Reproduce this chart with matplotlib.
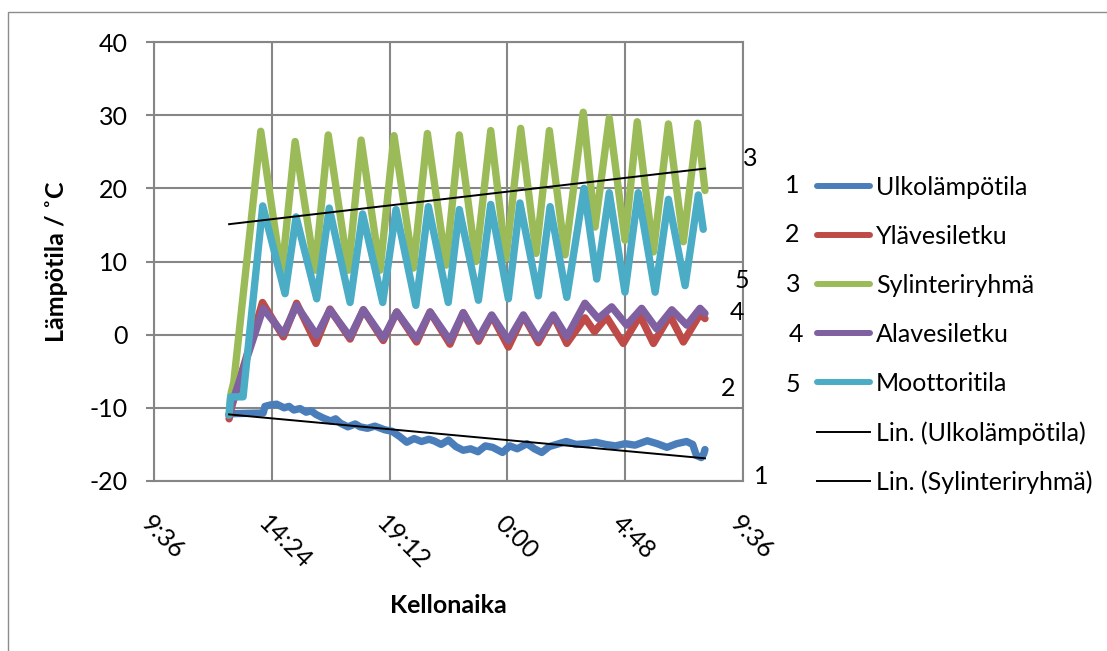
import numpy as np
import matplotlib
matplotlib.use("Agg")
import matplotlib.pyplot as plt
from matplotlib.patches import Rectangle
from matplotlib.ticker import FuncFormatter, MultipleLocator
from matplotlib.transforms import ScaledTranslation

plt.rcParams['font.family'] = ['Lato', 'DejaVu Sans']
plt.rcParams['axes.unicode_minus'] = False

# time in hours from midnight of the first day (values > 24 are next morning)
ulko_t = [12.66, 12.75, 14.05, 14.12, 14.35, 14.6, 14.9, 15.1, 15.3, 15.55, 15.8, 16.0,
          16.2, 16.5, 16.8, 17.0, 17.2, 17.5, 17.8, 18.0, 18.3, 18.6, 19.0, 19.3, 19.6,
          19.9, 20.2, 20.5, 20.8, 21.0, 21.3, 21.6, 21.9, 22.2, 22.5, 22.8, 23.1, 23.4,
          23.8, 24.1, 24.4, 24.8, 25.1, 25.4, 25.7, 26.0, 26.4, 26.8, 27.2, 27.6, 28.0,
          28.4, 28.8, 29.2, 29.7, 30.1, 30.5, 30.9, 31.3, 31.55, 31.7, 31.9, 32.0, 32.05]
ulko_v = [-11.0, -10.8, -10.7, -9.8, -9.6, -9.5, -10.0, -9.8, -10.3, -10.1, -10.6, -10.4,
          -10.9, -11.4, -11.8, -11.5, -12.1, -12.6, -12.2, -12.6, -12.8, -12.5, -13.0, -13.2, -13.9,
          -14.7, -14.2, -14.6, -14.3, -14.5, -15.0, -14.4, -15.3, -15.8, -15.6, -16.0, -15.2, -15.4,
          -16.1, -15.2, -15.6, -14.9, -15.6, -16.1, -15.3, -15.0, -14.6, -15.0, -14.9, -14.7, -15.0,
          -15.2, -14.9, -15.1, -14.5, -14.9, -15.4, -14.9, -14.6, -15.0, -16.5, -16.8, -16.3, -15.7]

yla_t = [12.66, 12.77, 14.02, 14.87, 15.41, 16.20, 16.77, 17.59, 18.13, 18.94, 19.49, 20.30,
         20.85, 21.66, 22.20, 22.82, 23.36, 24.04, 24.65, 25.26, 25.87, 26.42, 27.16, 27.55,
         28.04, 28.72, 29.40, 29.95, 30.62, 31.17, 31.85, 32.05]
yla_v = [-11.5, -9.8, 4.4, -0.3, 4.3, -1.2, 3.5, -0.6, 3.4, -0.8, 3.1, -1.0,
         3.1, -1.3, 3.0, -0.9, 2.6, -1.7, 2.6, -1.1, 2.6, -1.2, 2.3, 0.4,
         2.4, -1.2, 2.6, -1.2, 2.6, -1.0, 2.8, 2.2]

syl_t = [12.66, 12.74, 12.85, 13.95, 14.80, 15.35, 16.16, 16.70, 17.52, 18.04, 18.81, 19.38,
         20.17, 20.74, 21.50, 22.04, 22.72, 23.32, 23.94, 24.54, 25.17, 25.71, 26.35, 27.09,
         27.57, 28.15, 28.79, 29.29, 29.95, 30.56, 31.17, 31.75, 32.05]
syl_v = [-11.0, -8.0, -6.5, 27.8, 8.2, 26.4, 8.8, 27.3, 8.8, 26.6, 8.8, 27.2,
         9.1, 27.5, 9.5, 27.3, 10.0, 27.9, 10.4, 28.2, 11.1, 27.9, 10.9, 30.4,
         14.7, 29.6, 12.9, 29.1, 11.3, 28.8, 12.7, 28.9, 19.7]

ala_t = [12.66, 12.77, 14.05, 14.87, 15.41, 16.23, 16.77, 17.59, 18.13, 18.94, 19.49, 20.30,
         20.85, 21.66, 22.20, 22.82, 23.36, 24.04, 24.65, 25.26, 25.87, 26.42, 27.16, 27.70,
         28.25, 28.86, 29.47, 30.08, 30.70, 31.31, 31.85, 32.05]
ala_v = [-11.0, -9.5, 3.6, 0.1, 4.0, -0.1, 3.4, -0.3, 3.4, -0.5, 3.1, -0.6,
         3.1, -0.8, 3.0, -0.5, 2.7, -0.8, 2.7, -0.6, 2.7, -0.3, 4.3, 2.2,
         3.8, 1.3, 3.6, 0.8, 3.4, 1.3, 3.6, 2.9]

moot_t = [12.66, 12.72, 13.23, 14.03, 14.94, 15.39, 16.23, 16.74, 17.59, 18.10, 18.92, 19.46,
          20.27, 20.78, 21.59, 22.04, 22.82, 23.32, 24.04, 24.51, 25.26, 25.74, 26.42, 27.12,
          27.64, 28.15, 28.79, 29.33, 30.02, 30.56, 31.24, 31.78, 31.98]
moot_v = [-11.0, -8.5, -8.5, 17.6, 5.6, 16.1, 4.9, 17.3, 4.4, 16.5, 4.4, 17.1,
          4.0, 17.5, 4.4, 17.1, 4.7, 17.8, 4.9, 18.0, 5.3, 17.5, 5.1, 20.0,
          7.6, 19.4, 5.8, 19.4, 5.8, 18.5, 6.7, 19.1, 14.4]

# linear trend lines (start and end of the measurement)
trend_t = [12.66, 32.05]
ulko_trend = [-10.9, -16.9]
syl_trend = [15.1, 22.7]

names = ['Ulkolämpötila', 'Ylävesiletku', 'Sylinteriryhmä', 'Alavesiletku', 'Moottoritila']
colors = ['#4a7ebb', '#be4b48', '#9bbb59', '#7f60a0', '#4bacc6']

xticks = [9.6, 14.4, 19.2, 24.0, 28.8, 33.6]

W, H = 1107, 651
fig = plt.figure(figsize=(W / 100, H / 100), dpi=100)
ax = fig.add_axes([154 / W, 1 - 481 / H, (743 - 154) / W, (481 - 42) / H])

grid_c = '#868686'
fs = 18

series = [(ulko_t, ulko_v), (yla_t, yla_v), (syl_t, syl_v), (ala_t, ala_v), (moot_t, moot_v)]
handles = []
for (t, v), name, c in zip(series, names, colors):
    h, = ax.plot(t, v, color=c, lw=5.3, label=name,
                 solid_joinstyle='round', solid_capstyle='round', zorder=3)
    handles.append(h)
h, = ax.plot(trend_t, ulko_trend, color='black', lw=1.4, label='Lin. (Ulkolämpötila)', zorder=4)
handles.append(h)
h, = ax.plot(trend_t, syl_trend, color='black', lw=1.4, label='Lin. (Sylinteriryhmä)', zorder=4)
handles.append(h)

ax.set_xlim(9.6, 33.6)
ax.set_ylim(-20, 40)
ax.set_xticks(xticks)
ax.xaxis.set_major_formatter(FuncFormatter(
    lambda v, pos: f"{int(v % 24)}:{int(round((v % 1) * 60)):02d}"))
ax.yaxis.set_major_locator(MultipleLocator(10))

ax.grid(True, color=grid_c, lw=1.5, zorder=0)
for s in ax.spines.values():
    s.set_color(grid_c)
    s.set_linewidth(1.5)
ax.tick_params(axis='y', direction='out', length=5.8, width=1.5, color=grid_c,
               labelsize=fs, pad=13)
ax.tick_params(axis='x', length=0, labelsize=fs, pad=22)
for lab in ax.get_xticklabels():
    lab.set_rotation(-45)
    lab.set_ha('left')
    lab.set_va('top')
    lab.set_rotation_mode('anchor')
    lab.set_transform(lab.get_transform() + ScaledTranslation(-1 / 100, 0, fig.dpi_scale_trans))

ax.set_ylabel('Lämpötila / ˚C', fontsize=fs, fontweight='bold')
ax.yaxis.set_label_coords((68 - 154) / 589, 0.5)
ax.set_xlabel('Kellonaika', fontsize=fs, fontweight='bold')
ax.xaxis.set_label_coords(0.5, (481 - 594) / 439)

leg = ax.legend(handles=handles, loc='upper left', frameon=False, fontsize=fs,
                bbox_to_anchor=(817 / W, 1 - 176 / H), bbox_transform=fig.transFigure,
                borderpad=0, borderaxespad=0, handlelength=2.12, handletextpad=0.24,
                labelspacing=1.04)
for ln in leg.get_lines()[:5]:
    ln.set_linewidth(4.3)

# series numbers beside the plot and beside the legend
num_labels = ['3', '5', '4', '2', '1', '1', '2', '3', '4', '5']
num_x = [750, 742, 737, 728, 761, 792, 792, 793, 796, 793]
num_y = [158, 280, 313, 388, 477, 185, 235, 284, 335, 385]
for s, x, y in zip(num_labels, num_x, num_y):
    fig.text(x / W, 1 - y / H, s, fontsize=fs, ha='center', va='center')

# chart area border
fig.add_artist(Rectangle((8 / W, -0.1), 1.2, 1 - 12 / H + 0.1, transform=fig.transFigure,
                         fill=False, edgecolor='#8c8c8c', lw=1.0))

fig.savefig('out.png', dpi=100)
